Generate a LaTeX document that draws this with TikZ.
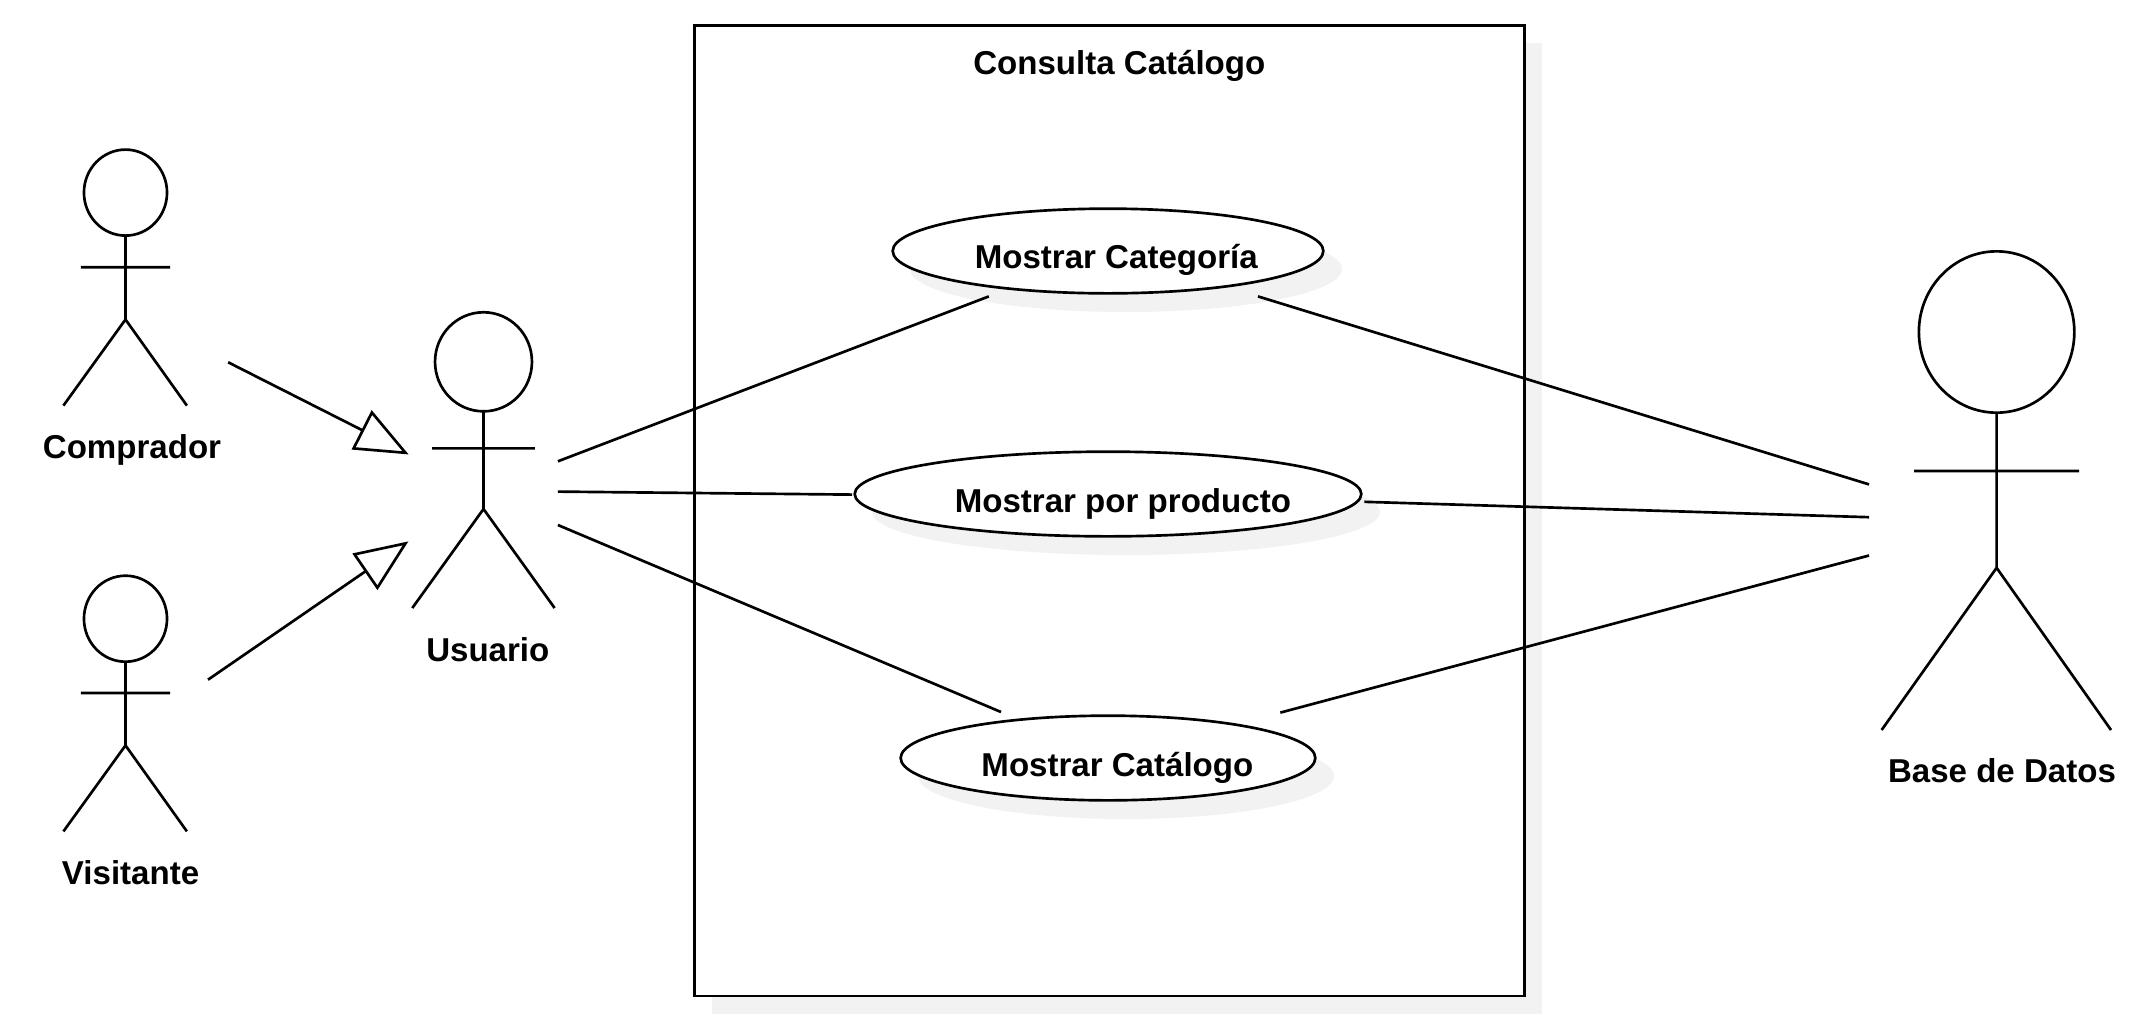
\documentclass[tikz,border=0pt]{standalone}
\usepackage{fontspec}
\setmainfont{Liberation Sans}
\usetikzlibrary{shapes.geometric,calc}
\definecolor{shadowgray}{HTML}{F2F2F2}
\tikzset{
  px/.style={x=0.75pt,y=-0.75pt},
  ln/.style={draw=black,line width=2pt,line cap=butt},
  head/.style={ellipse,draw=black,line width=2pt,fill=white,inner sep=0pt,outer sep=0pt},
  usecase/.style={ellipse,draw=black,line width=2pt,fill=white,inner sep=0pt,outer sep=0pt,minimum height=63.5pt},
  caseshadow/.style={ellipse,fill=shadowgray,inner sep=0pt,outer sep=0pt,minimum height=64.5pt},
  lbl/.style={font=\fontsize{24.8pt}{28pt}\selectfont\bfseries,anchor=base,inner sep=0pt},
  tip/.style={draw=black,line width=2pt,fill=white,line join=miter}
}
\begin{document}
\begin{tikzpicture}[px]
\useasboundingbox (0,0) rectangle (2147,1022);
% system boundary
\fill[shadowgray] (712,43) rectangle (1542,1014);
\draw[ln,fill=white] (694.5,25.5) rectangle (1524.5,996);
\node[lbl] (title) at (1119.3,74.3) {Consulta Catálogo};
% use cases
\node[caseshadow,minimum width=324pt] (s1) at (1126,269) {};
\node[caseshadow,minimum width=381pt] (s2) at (1126,512) {};
\node[caseshadow,minimum width=312pt] (s3) at (1126,776) {};
\node[usecase,minimum width=323pt] (uc1) at (1108,251) {};
\node[usecase,minimum width=380pt] (uc2) at (1108,494) {};
\node[usecase,minimum width=311pt] (uc3) at (1108,758) {};
\node[lbl] (t1) at (1116.3,268.6) {Mostrar Categoría};
\node[lbl] (t2) at (1122.9,512) {Mostrar por producto};
\node[lbl] (t3) at (1117.4,776.4) {Mostrar Catálogo};
% Comprador
\node[head,minimum width=62.3pt,minimum height=64.5pt] (hC) at (125.5,192.6) {};
\coordinate (cb) at (125.5,319.5);
\coordinate (cal) at (80.8,267.3); \coordinate (car) at (170,267.3);
\coordinate (cfl) at (63.4,405.6); \coordinate (cfr) at (186.9,405.6);
\draw[ln] (hC.south) -- (cb) (cal) -- (car) (cfl) -- (cb) -- (cfr);
\node[lbl] (tC) at (132,458.3) {Comprador};
% Visitante
\node[head,minimum width=62.3pt,minimum height=64.5pt] (hV) at (125.5,618.7) {};
\coordinate (vb) at (125.5,745.4);
\coordinate (val) at (80.8,693); \coordinate (var) at (170,693);
\coordinate (vfl) at (63.4,831.4); \coordinate (vfr) at (186.9,831.4);
\draw[ln] (hV.south) -- (vb) (val) -- (var) (vfl) -- (vb) -- (vfr);
\node[lbl] (tV) at (130.6,884.7) {Visitante};
% Usuario
\node[head,minimum width=72.7pt,minimum height=74.3pt] (hU) at (483.5,361.8) {};
\coordinate (ub) at (483.5,509);
\coordinate (ual) at (432,448.4); \coordinate (uar) at (534.9,448.4);
\coordinate (ufl) at (412.3,608); \coordinate (ufr) at (554.6,608);
\draw[ln] (hU.south) -- (ub) (ual) -- (uar) (ufl) -- (ub) -- (ufr);
\node[lbl] (tU) at (487.8,661.3) {Usuario};
% Base de Datos
\node[head,minimum width=116.6pt,minimum height=121pt] (hB) at (1996.6,332) {};
\coordinate (bb) at (1996.6,567.8);
\coordinate (bal) at (1914,471); \coordinate (bar) at (2079,471);
\coordinate (bfl) at (1881.6,730); \coordinate (bfr) at (2111,730);
\draw[ln] (hB.south) -- (bb) (bal) -- (bar) (bfl) -- (bb) -- (bfr);
\node[lbl] (tB) at (2002,782.7) {Base de Datos};
% generalisations
\coordinate (g1s) at (228.2,362.3);
\coordinate (g1a) at (371.9,412.5); \coordinate (g1b) at (353.6,448.4); \coordinate (g1t) at (405.5,452.8);
\draw[ln] (g1s) -- ($(g1a)!0.5!(g1b)$);
\draw[tip] (g1t) -- (g1a) -- (g1b) -- cycle;
\coordinate (g2s) at (208,679.7);
\coordinate (g2a) at (354.5,554.3); \coordinate (g2b) at (377.4,587.7); \coordinate (g2t) at (405.5,543.4);
\draw[ln] (g2s) -- ($(g2a)!0.5!(g2b)$);
\draw[tip] (g2t) -- (g2a) -- (g2b) -- cycle;
% associations
\coordinate (u1) at (557.9,461.3); \coordinate (u2) at (557.9,491.6); \coordinate (u3) at (557.9,525);
\coordinate (c1l) at (988.8,296.4); \coordinate (c2l) at (852.2,494.6); \coordinate (c3l) at (1001,712);
\coordinate (c1r) at (1258,296.4); \coordinate (c2r) at (1364.3,501.8); \coordinate (c3r) at (1280.3,712.6);
\coordinate (b1) at (1869,484.4); \coordinate (b2) at (1869,517.2); \coordinate (b3) at (1869,555.5);
\draw[ln] (u1) -- (c1l);
\draw[ln] (u2) -- (c2l);
\draw[ln] (u3) -- (c3l);
\draw[ln] (c1r) -- (b1);
\draw[ln] (c2r) -- (b2);
\draw[ln] (c3r) -- (b3);
\end{tikzpicture}
\end{document}
